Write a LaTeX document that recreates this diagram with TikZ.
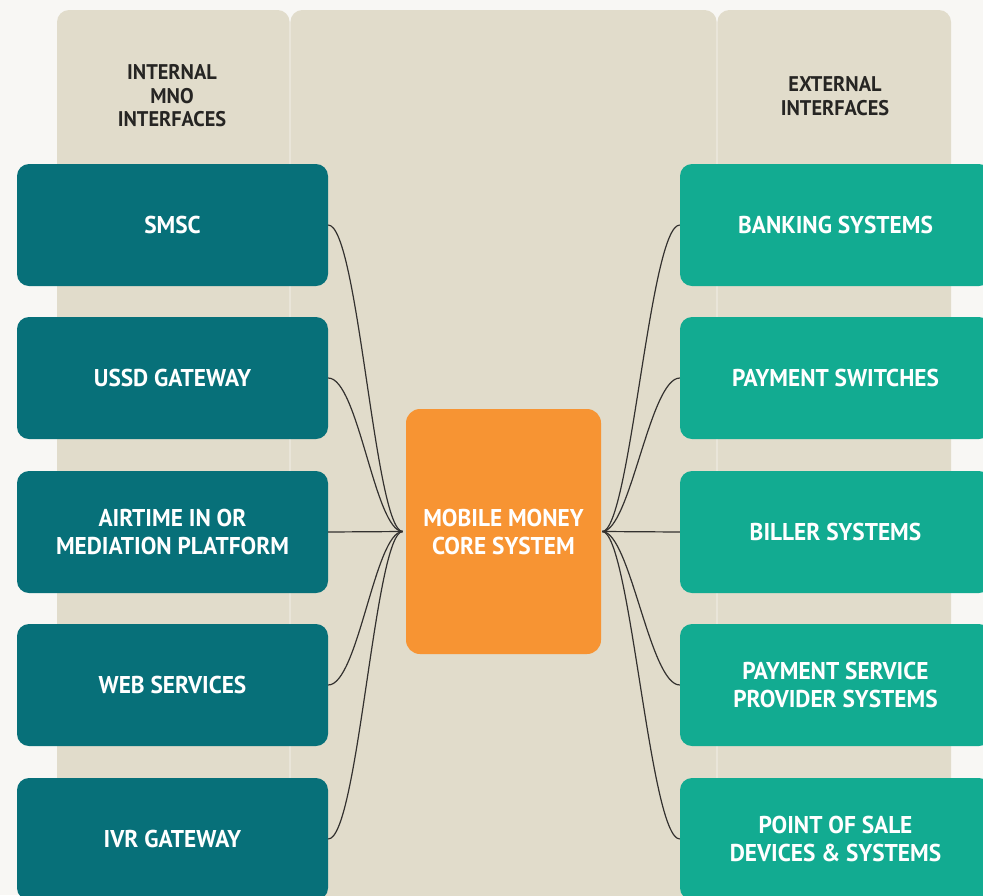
\documentclass[tikz,border=0pt]{standalone}
\usepackage{fontspec}
\newfontfamily\boxfont{PT Sans}[FakeStretch=0.96]
\definecolor{pagebg}{HTML}{F8F7F4}
\definecolor{panel}{HTML}{E1DCCB}
\definecolor{mnoteal}{HTML}{077079}
\definecolor{extteal}{HTML}{12AB91}
\definecolor{coreorange}{HTML}{F79433}
\definecolor{headtext}{HTML}{262523}
\definecolor{wire}{HTML}{33312F}
\begin{document}
\begin{tikzpicture}[x=1pt,y=-1pt,
  lane/.style={fill=panel,draw=none,rounded corners=12pt},
  sysbox/.style={rectangle,rounded corners=12pt,minimum width=311pt,minimum height=122pt,
    inner sep=0pt,text=white,align=center,font=\boxfont\bfseries\fontsize{24.3}{28}\selectfont},
  mnobox/.style={sysbox,fill=mnoteal},
  extbox/.style={sysbox,fill=extteal},
  corebox/.style={sysbox,fill=coreorange,minimum width=195pt,minimum height=245pt,rounded corners=14pt},
  heading/.style={text=headtext,align=center,inner sep=0pt,font=\boxfont\bfseries\fontsize{21.2}{23.5}\selectfont},
  link/.style={draw=wire,line width=1.2pt}]
  \useasboundingbox (0,0) rectangle (983,895);
  \clip (0,0) rectangle (983,895);
  \fill[pagebg] (0,0) rectangle (983,895);

  % three background lanes, open at the bottom
  \fill[lane] (57,920) -- (57,10) -- (289.6,10) -- (289.6,920);
  \fill[lane] (290.4,920) -- (290.4,10) -- (716.6,10) -- (716.6,920);
  \fill[lane] (717.4,920) -- (717.4,10) -- (951,10) -- (951,920);

  % lane headings
  \node[heading] (hl) at (172,96) {INTERNAL\\MNO\\INTERFACES};
  \node[heading] (hr) at (835,96) {EXTERNAL\\INTERFACES};

  % internal MNO interfaces
  \node[mnobox] (l1) at (172.5,225) {SMSC};
  \node[mnobox] (l2) at (172.5,378) {USSD GATEWAY};
  \node[mnobox] (l3) at (172.5,532) {AIRTIME IN OR\\MEDIATION PLATFORM};
  \node[mnobox] (l4) at (172.5,685) {WEB SERVICES};
  \node[mnobox] (l5) at (172.5,839) {IVR GATEWAY};

  % external interfaces
  \node[extbox] (r1) at (835.5,225) {BANKING SYSTEMS};
  \node[extbox] (r2) at (835.5,378) {PAYMENT SWITCHES};
  \node[extbox] (r3) at (835.5,532) {BILLER SYSTEMS};
  \node[extbox] (r4) at (835.5,685) {PAYMENT SERVICE\\PROVIDER SYSTEMS};
  \node[extbox] (r5) at (835.5,839) {POINT OF SALE\\DEVICES \& SYSTEMS};

  % core platform
  \node[corebox] (core) at (503.5,531.5) {MOBILE MONEY\\CORE SYSTEM};

  % links into the core
  \foreach \n in {l1,l2,l4,l5}
    \draw[link] (\n.east) .. controls +(30,0) and +(-28,0) .. ([xshift=-3pt]core.west);
  \draw[link] (l3.east) -- ([xshift=-3pt]core.west);
  \foreach \n in {r1,r2,r4,r5}
    \draw[link] ([xshift=1pt]core.east) .. controls +(28,0) and +(-30,0) .. (\n.west);
  \draw[link] ([xshift=1pt]core.east) -- (r3.west);
\end{tikzpicture}
\end{document}
